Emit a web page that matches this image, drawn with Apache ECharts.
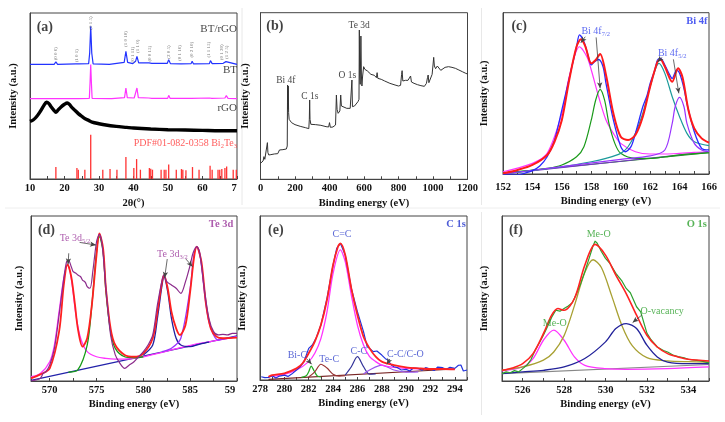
<!DOCTYPE html>
<html><head><meta charset="utf-8">
<script src="https://cdn.jsdelivr.net/npm/echarts@6/dist/echarts.min.js"></script>
<style>html,body{margin:0;padding:0;background:#fff}#c{width:725px;height:422px}</style>
</head><body><div id="c"></div>
<script>
// ---------------- (a) XRD ----------------
const aTickLabels = [10,20,30,40,50,60,70];
const aTicks = [10,15,20,25,30,35,40,45,50,55,60,65,70];
const aBTrGO = [[10,69.1],[15,69.1],[17,69.1],[17.5,70.5],[18,69.1],[23.3,69.3],[23.7,69.9],[24.1,69.3],[27,69.5],[27.3,75.9],[27.6,92],[27.9,75.9],[28.3,69.3],[33,69.1],[37.3,70.3],[37.8,76.9],[38.3,70.3],[39.8,69.5],[40.3,70.7],[40.6,70.9],[41,73.9],[41.5,69.9],[44.5,69.9],[44.8,70.9],[45.3,69.7],[49.8,69.7],[50.2,71.9],[50.7,69.5],[53.8,69.3],[54,70.1],[54.3,69.3],[56.7,69.5],[57,70.9],[57.4,69.3],[62,69.5],[62.3,71.3],[62.8,69.5],[66,69.7],[66.2,69.9],[66.8,70.7],[67.2,69.7],[70,69.1]];
const aBT = [[10,48.4],[17.2,48.4],[17.5,49.4],[17.8,48.4],[23.4,48.4],[23.7,49.4],[24,48.4],[27.2,48.6],[27.4,57.8],[27.6,68.9],[27.8,57.8],[28,48.6],[33,48.4],[33.4,49],[33.7,48.4],[37.4,49],[37.8,54.8],[38.2,49],[40.2,48.8],[40.5,49.8],[41,54.8],[41.4,49],[44.4,48.8],[44.8,49.8],[45.3,48.6],[49.9,48.6],[50.2,50.4],[50.6,48.6],[53.7,48.6],[54,49.2],[54.3,48.6],[56.8,48.6],[57,49.4],[57.3,48.6],[62,48.8],[62.3,49.8],[62.7,48.6],[66.5,48.8],[66.9,50.2],[67.4,48.6],[70,48.4]];
const aRGO = [[10,34.7],[11,35.7],[12,37.8],[13,40.8],[14,44.2],[14.8,46.2],[15.5,45.4],[16,43.8],[17,41.2],[17.5,40.2],[18,41.2],[19,43.4],[20,45],[20.8,45.8],[21.5,44.8],[22,43.4],[23,41.4],[24,39.4],[25,37.8],[26,36.3],[27,35.3],[28,34.3],[30,33.3],[32,32.5],[35,31.7],[38,31.1],[40,30.7],[45,30.1],[50,29.7],[55,29.5],[60,29.3],[65,29.1],[70,29.1]];
const aPDF = [[17.5,7.2],[23.6,6.6],[24.0,5.6],[25.9,5.6],[27.6,26.7],[31.1,5.6],[33.2,6],[35.2,5.6],[37.8,13.3],[40.1,6.6],[40.9,12],[42.0,5.6],[44.6,6.6],[45.0,6.2],[45.5,5.6],[48.0,5.6],[48.9,5.6],[49.4,5.6],[50.2,8.8],[52.4,5.6],[53.9,6],[54.3,5.6],[55.2,5.2],[57.1,7.2],[59.0,5.6],[62.2,8],[62.8,5.6],[64.5,5.6],[65.0,5.6],[65.6,6],[66.5,6.6],[67.0,7.6],[68.9,5.6],[69.8,5.6]];
const aHkl = ['(0 0 6)','(1 0 1)','(0 1 5)','(1 0 10)','(0 1 11)','(1 1 0)','(0 0 15)','(2 0 5)','(0 1 16)','(0 2 10)','(1 1 15)','(0 1 20)','(1 2 5)'];
const aHklX = [17.4,23.6,27.6,37.8,39.7,41.1,44.7,50.2,53.4,56.8,61.9,65.7,67.1];
const aHklY = [75.5,74.3,94,84.3,74.9,79.9,75.5,76.5,75.9,77.9,77.9,76.3,76.3];

// ---------------- (b) survey ----------------
const bTickLabels = [0,200,400,600,800,1000,1200];
const bTicks = [0,100,200,300,400,500,600,700,800,900,1000,1100,1200];
const bSurvey = [[0,9.6],[8,10.2],[15,11],[20,13.6],[25,12],[30,11.4],[35,13],[40,22],[43,16],[48,14.6],[60,14.8],[80,15.2],[100,15.4],[110,17.6],[130,17.8],[150,18.2],[155,20],[157,56.6],[159,42],[161,56],[163,40],[166,36],[172,35.8],[180,34],[200,32.8],[230,31.8],[260,31],[280,30.4],[283,36],[285,47.6],[287,36],[292,33],[300,33.4],[320,32.8],[350,32.4],[380,31.6],[395,31.4],[400,34],[405,31.2],[420,31.4],[435,32.6],[440,50.6],[444,42],[450,39.6],[460,41],[465,50.6],[469,44],[480,43],[500,42.6],[520,42.6],[527,43],[530,59.6],[533,43.6],[545,44],[555,45.2],[565,46.6],[571,48],[573,89.6],[575,62],[578,57],[582,86],[585,62],[588,56],[592,62],[598,67.6],[605,66],[620,65],[640,63],[660,62.4],[672,61],[676,64],[680,60.6],[700,60],[720,59],[750,57.6],[780,56.6],[800,56],[812,56.4],[818,63],[821,65.2],[825,59],[840,59.4],[855,59.4],[865,60],[870,62],[875,58.4],[890,57.6],[910,56.8],[930,56.2],[950,55.8],[962,57.6],[968,61],[972,62.6],[976,58],[985,58.6],[995,63],[1000,68.6],[1004,73.2],[1008,68],[1015,66.4],[1025,68],[1035,67],[1045,65.4],[1055,66],[1070,67.2],[1090,67.6],[1110,67.2],[1130,66.6],[1150,65.6],[1170,64.6],[1190,63.6],[1200,63.2]];

// ---------------- (c) Bi 4f ----------------
const cTickLabels = [152,154,156,158,160,162,164,166];
const cTicks = [152,153,154,155,156,157,158,159,160,161,162,163,164,165,166];
const cRaw = [[152,-0.5],[153,-0.6],[153.5,0.6],[154,2.1],[154.5,5],[155,10.7],[155.5,21],[156,39.7],[156.5,59.3],[157,79],[157.2,86.2],[157.5,82],[157.8,73],[158,67.6],[158.2,69.5],[158.5,71],[158.8,66.5],[159,56.2],[159.5,33.5],[160,17],[160.3,13.8],[160.7,17],[161,25.2],[161.5,41.7],[161.8,49],[162,56.2],[162.3,64],[162.5,70.7],[162.7,71.7],[163,67.6],[163.3,62],[163.5,59.3],[163.8,64.5],[164,62.4],[164.3,53],[164.5,43.8],[165,26.2],[165.5,15.9],[166,14.9]];
const cFit = [[152,0.4],[153,2.5],[154,5.6],[155,11.8],[155.5,20],[156,33.5],[156.5,58.3],[157,79],[157.3,83.5],[157.6,79],[158,68.6],[158.3,70.7],[158.6,74.4],[159,61.4],[159.5,37.6],[160,23.1],[160.5,21.1],[161,24.2],[161.5,35.5],[162,54.1],[162.5,69.6],[162.7,71],[163,66.5],[163.5,57.2],[163.9,65.5],[164.2,60],[164.6,39.7],[165,28.3],[165.5,22.1],[166,19.4]];
const cP1 = [[152,1.4],[154,6.6],[155,12.8],[156,37.6],[156.5,60.3],[157.2,78.9],[157.7,72.7],[158,64.5],[158.5,47.9],[159,33.5],[159.5,25.2],[160,19],[161,13.8],[162,12.4],[163,12.4],[164,12.8],[165,13.4],[166,13.8]];
const cP2 = [[152,0.4],[155,3.5],[156,5.6],[157,10.7],[157.5,16.9],[158,33.5],[158.3,45.9],[158.6,52.5],[158.9,45.9],[159.2,31.4],[159.6,19],[160,12.8],[161,9.7],[162,9.7],[163,10.7],[164,11.8],[166,13.2]];
const cP3 = [[152,0],[156,4.5],[158,7.6],[159,9.7],[160,12.8],[160.5,16.9],[161,25.2],[161.5,37.6],[162,54.1],[162.6,68.6],[163,62.4],[163.5,47.9],[164,35.5],[164.5,25.2],[165,20],[166,17.6]];
const cP4 = [[152,0],[160,9.1],[162,11.2],[163,14.9],[163.5,31.4],[163.7,41.7],[164,47.5],[164.3,41.7],[164.5,31.4],[165,19],[165.5,14.9],[166,13.8]];
const cBase = [[152,0],[166,13.8]];
const cBase2 = [[152,0.6],[166,13.2]];

// ---------------- (d) Te 3d ----------------
const dTickLabels = [570,575,580,585,590];
const dTicks = [570,572.5,575,577.5,580,582.5,585,587.5,590];
const dRaw = [[568,0],[568.5,0.6],[569,1.6],[569.3,4.6],[569.6,5.7],[570,9.7],[570.5,19.8],[571,40],[571.5,62.2],[571.8,72.3],[572,73.3],[572.3,69.3],[572.5,66.3],[572.8,65.3],[573,64.2],[573.3,63.2],[573.5,61.2],[573.8,59.8],[574,57.2],[574.3,56.2],[574.6,66.3],[575,84.4],[575.3,88.9],[575.6,82.4],[576,56.2],[576.5,27.9],[577,15.8],[577.5,10.7],[578,7.7],[578.5,9.7],[579,11.7],[579.5,14.7],[580,17.8],[580.5,21.8],[581,27.9],[581.5,46.1],[582,61.2],[582.2,64.2],[582.5,60.2],[583,58.2],[583.5,56.2],[584,53.1],[584.5,60.2],[585,70.3],[585.3,77.4],[585.7,81.4],[586,78.4],[586.5,56.2],[587,38],[587.5,29.9],[588,27.9],[588.5,28.3],[589,27.9],[589.5,28.9],[590,28.9]];
const dFit = [[568,1.6],[569,4],[570,7.7],[571,29.9],[571.5,58.2],[571.9,70.7],[572.3,63.2],[572.7,46.1],[573,31.9],[573.5,20.8],[574,25.9],[574.5,46.1],[575,76.4],[575.3,89.5],[575.7,80.4],[576,56.2],[576.5,31.9],[577,21.8],[578,15.8],[579,14.7],[580,16.8],[581,25.9],[581.5,42],[582,60.2],[582.2,64.2],[582.6,56.2],[583,42],[583.5,31.9],[583.9,27.9],[584.5,33.9],[585,54.1],[585.4,74.3],[585.7,81.4],[586.2,72.3],[586.7,46.1],[587.2,31.9],[587.8,26.9],[588.5,25.9],[590,26.3]];
const dP1 = [[568,2.6],[569,4.6],[570,11.7],[570.5,21.8],[571,42],[571.5,62.2],[571.9,70.7],[572.3,62.2],[572.8,40],[573.3,25.9],[574,17.8],[575,14.7],[576,13.7],[577,13.3],[578,13.3],[580,14.7],[582,17.4],[584,20.2],[586,22.8],[588,24.8],[590,26.9]];
const dP2 = [[572,5.3],[573,6.7],[574,21.8],[574.5,46.1],[575,78.4],[575.3,87.5],[575.7,78.4],[576,54.1],[576.5,29.9],[577,19.8],[578,14.7],[579,14.1],[580,14.7]];
const dP3 = [[580,15.8],[581,21.8],[581.5,38],[582,58.2],[582.2,63.2],[582.6,54.1],[583,38],[583.5,25.9],[584,21.8],[585,20.8],[586,22.4],[587,23.6]];
const dP4 = [[582,17.8],[583,19.8],[584,25.9],[585,56.2],[585.4,76.4],[585.7,81.4],[586.1,74.3],[586.6,50.1],[587,36],[587.5,27.9],[588,24.8],[589,25.9],[590,26.9]];
const dBase = [[568,0.4],[590,27.3]];

// ---------------- (e) C 1s ----------------
const eTickLabels = [278,280,282,284,286,288,290,292,294];
const eTicks = [278,279,280,281,282,283,284,285,286,287,288,289,290,291,292,293,294,295];
const eRaw = [[278.1,2],[278.4,1.4],[278.7,1.6],[279,2.6],[279.3,1.2],[279.6,2.4],[280,3],[280.3,2.2],[280.6,3.6],[281,6.1],[281.3,8],[281.6,11],[282,19.3],[282.3,21.3],[282.6,25.4],[283,33.5],[283.5,49.8],[284,70.1],[284.3,80.3],[284.6,83.3],[285,76.2],[285.5,55.9],[286,41.7],[286.5,29.5],[286.8,20.3],[287,19.3],[287.3,17.3],[287.6,17.7],[288,15.2],[288.3,13],[288.5,12.2],[288.8,9],[289,8.1],[289.3,7.5],[289.6,6.1],[290,6.5],[290.3,5.5],[290.6,7.3],[291,7.1],[291.3,6],[291.6,7.5],[292,6.7],[292.3,5.8],[292.6,7.9],[293,7.5],[293.3,6.5],[293.6,7.7],[294,7.1],[294.3,9],[294.5,9.1],[294.7,5.5],[295,6.1]];
const eFit = [[278.7,2],[279,3],[280,4.1],[281,7.1],[281.5,10.2],[282,16.3],[282.5,23.4],[283,33.5],[283.5,48.8],[284,70.1],[284.4,81.3],[284.6,83.3],[285,76.2],[285.5,55.9],[286,39.6],[286.5,26.4],[287,19.3],[287.5,14.2],[288,11.2],[289,9.1],[290,7.7],[291,7.1],[292,6.7],[293,6.7],[294,6.5]];
const eCC = [[278.7,2],[280,3.5],[281,6.1],[282,11.2],[282.5,16.3],[283,25.2],[283.5,41.5],[284,65],[284.6,79.3],[285,72.2],[285.5,51.8],[286,33.5],[286.5,21.3],[287,14.2],[287.5,11.2],[288,9.1],[289,7.7],[290,7.1],[292,6.7],[294,6.5]];
const eBiC = [[281.4,1.6],[281.8,2.6],[282,5],[282.2,8.5],[282.45,5.5],[282.7,2.5],[283,1.9]];
const eTeC = [[282,1.8],[282.5,5],[283,9.6],[283.5,7.3],[284,3.5],[284.5,2.4],[285,2.6]];
const eCsC = [[285,3],[285.5,8.1],[286,14.2],[286.5,8.1],[287,3.5],[287.5,3.7]];
const eCO = [[286.5,3.6],[287,6.1],[288,9.1],[289,6.1],[290,4.8],[291,5]];
const eBase = [[278.7,0.4],[294,6.7]];

// ---------------- (f) O 1s ----------------
const fTickLabels = [526,528,530,532,534];
const fTicks = [525,526,527,528,529,530,531,532,533,534,535];
const fRaw = [[525,4.5],[525.2,5.5],[525.4,5],[525.6,6.3],[525.8,5.5],[526,7.5],[526.2,9.5],[526.4,13],[526.6,18.6],[526.8,23],[527,27.7],[527.2,33],[527.4,38.7],[527.6,42.9],[527.8,42.3],[528,43.9],[528.2,45.5],[528.4,47.5],[528.6,53],[528.8,59],[529,66.2],[529.2,74],[529.4,82],[529.5,84.8],[529.6,83.5],[529.8,78.5],[530,74.3],[530.2,71.5],[530.5,65.2],[530.8,60.5],[531,56.1],[531.2,53.5],[531.5,45],[531.7,41.9],[532,29],[532.2,25],[532.5,20.6],[532.8,18.5],[533,17.6],[533.3,15.5],[533.5,14.8],[533.8,14],[534,13.2],[534.3,12.6],[534.6,12.2],[535,11]];
const fFit = [[525,6.5],[525.5,7.9],[526,10.5],[526.5,16.6],[527,28.7],[527.4,39.9],[527.7,43.9],[528,42.9],[528.5,50],[529,70.2],[529.5,82.8],[530,76.3],[530.5,64.2],[531,53],[531.5,39.9],[532,27.7],[532.5,20.6],[533,16.6],[533.5,14.6],[534,13.2],[535,12.1]];
const fMeO1 = [[525,6.1],[526,8.5],[526.5,13.6],[527,24.7],[527.5,30.8],[528,24.7],[528.5,14.6],[529,9.5],[530,7.5],[531,7.1],[533,7.5],[535,8.5]];
const fMeO2 = [[525,6.5],[526,8.5],[527,12.6],[527.5,17.6],[528,27.5],[528.5,45.7],[529,65.8],[529.4,73.5],[529.8,68.8],[530.3,51.6],[530.8,33.4],[531.3,21.3],[532,14.2],[533,12.2],[534,11.7],[535,11.5]];
const fOv = [[525,4.5],[526,5.5],[527,6.5],[528,8.5],[529,13.6],[530,23.7],[530.5,31.8],[531,34.8],[531.5,31.8],[532,21.7],[532.5,14.6],[533,11.5],[534,10.5],[535,10.5]];
const fBase = [[525,4.5],[535,10]];

// ---------------- build ----------------
const F = 'Liberation Serif';
const grids = [
  {left:30, top:13, width:207, height:166},
  {left:260.5, top:12.7, width:207, height:166.6},
  {left:503, top:12.7, width:206, height:161.3},
  {left:31, top:216, width:206, height:165},
  {left:260, top:216, width:207, height:164},
  {left:502, top:216, width:207, height:165}
].map(g => Object.assign({show:true, borderColor:'#444', borderWidth:1, containLabel:false}, g));

function xa(i, min, max, labels, ticks, name, margin, gap, fmt, rich) {
  return {type:'value', gridIndex:i, min:min, max:max, name:name, nameLocation:'middle', nameGap:gap,
    nameTextStyle:{fontFamily:F, fontWeight:'bold', fontSize:10.5, color:'#111'},
    axisLine:{show:true, onZero:false, lineStyle:{color:'#444', width:1}},
    axisTick:{show:true, inside:true, length:3, customValues:ticks, lineStyle:{color:'#444'}},
    axisLabel:{show:true, customValues:labels, fontFamily:F, fontWeight:'bold', fontSize:10.5, color:'#111', margin:margin,
      formatter:fmt || (v => String(v)), rich: rich || {}},
    splitLine:{show:false}, minorTick:{show:false}};
}
function ya(i, gap) {
  return {type:'value', gridIndex:i, min:0, max:100, name:'Intensity (a.u.)', nameLocation:'middle', nameGap:gap, nameRotate:90,
    nameTextStyle:{fontFamily:F, fontWeight:'bold', fontSize:10.5, color:'#111'},
    axisLine:{show:true, onZero:false, lineStyle:{color:'#444'}}, axisTick:{show:false}, axisLabel:{show:false}, splitLine:{show:false}};
}
function L(g, data, color, w, smooth, z) {
  return {type:'line', xAxisIndex:g, yAxisIndex:g, data:data, symbol:'none', showSymbol:false,
    smooth: smooth ? 0.3 : false, lineStyle:{color:color, width:w}, itemStyle:{color:color}, silent:true, z:z||2, animation:false};
}
function T(g, items, arrows) {
  const s = {type:'scatter', xAxisIndex:g, yAxisIndex:g, symbolSize:0.1, silent:true, z:20, animation:false,
    itemStyle:{color:'transparent'},
    label:{show:true, position:'inside', fontFamily:F, fontSize:10, color:'#111'},
    data: items.map(it => ({value:[it[0], it[1]], label:Object.assign({show:true, formatter:it[2]}, it[3] || {})}))};
  if (arrows) {
    s.markLine = {silent:true, animation:false, symbol:['none','arrow'], symbolSize:[4,6], precision:4,
      lineStyle:{color:'#444', width:0.8, type:'solid'}, label:{show:false},
      data: arrows.map(a => [{coord:[a[0], a[1]]}, {coord:[a[2], a[3]]}])};
  }
  return s;
}
function sub(color) {
  return {rich:{n:{fontFamily:F, fontSize:10, color:color}, s:{fontFamily:F, fontSize:6.5, color:color, padding:[6,0,0,0]}}};
}
const B = {fontWeight:'bold', fontSize:14, color:'#111'};
const H = c => ({align:'right', fontWeight:'bold', color:c, fontSize:10.5});

const series = [];
// (a)
series.push(L(0, aRGO, '#000', 3.4, true));
series.push(L(0, aBT, '#ff33ff', 1.2, false));
series.push(L(0, aBTrGO, '#2233ff', 1.2, false));
series.push({type:'bar', xAxisIndex:0, yAxisIndex:0, data:aPDF, barWidth:1.3, itemStyle:{color:'#ff3333'}, silent:true, animation:false});
series.push(T(0, [
  [14.3, 91.6, '(a)', B],
  [70, 90.4, 'BT/rGO', {align:'right', fontSize:11}],
  [70, 65.3, 'BT', {align:'right', fontSize:11}],
  [70, 42.8, 'rGO', {align:'right', fontSize:11}],
  [70, 21.3, 'PDF#01-082-0358 Bi{s|2}Te{s|3}', Object.assign({align:'right', color:'#ff3333'}, sub('#ff3333'))]
].concat(aHkl.map((h, k) => [aHklX[k], aHklY[k], h, {rotate:90, fontSize:5, color:'#555'}]))));
// (b)
series.push(L(1, bSurvey, '#333', 1, false));
series.push(T(1, [
  [83, 92, '(b)', B],
  [146.9, 59.2, 'Bi 4f', {fontSize:9.5}],
  [286, 49.6, 'C 1s', {fontSize:9.5}],
  [504, 62.6, 'O 1s', {fontSize:9.5}],
  [572, 92.6, 'Te 3d', {fontSize:9.5}]
]));
// (c)
series.push(L(2, cBase2, '#1a8a1a', 1, false));
series.push(L(2, cBase, '#7a33cc', 1, false));
series.push(L(2, cP1, '#ff33ff', 1.2, true));
series.push(L(2, cP2, '#1a9a1a', 1.2, true));
series.push(L(2, cP3, '#1a9a9a', 1.2, true));
series.push(L(2, cP4, '#9933ff', 1.2, true));
series.push(L(2, cRaw, '#2a2aff', 1.3, true));
series.push(L(2, cFit, '#ff1a1a', 2, true));
series.push(T(2, [
  [153.1, 91.7, '(c)', B],
  [165.9, 94.6, 'Bi 4f', H('#2233ee')],
  [158.3, 88.2, '{n|Bi 4f}{s|7/2}', sub('#3344ee')],
  [163.5, 74.8, '{n|Bi 4f}{s|5/2}', sub('#3344ee')]
], [[157.59,85.1,157.29,81.4],[158.33,84.7,158.6,53.1],[162.8,72.3,162.5,69.4],[163.58,71.1,163.95,50]]));
// (d)
series.push(L(3, dBase, '#2222aa', 1.2, false));
series.push(L(3, dP1, '#ff33ff', 1.3, true));
series.push(L(3, dP2, '#189c18', 1.3, true));
series.push(L(3, dP3, '#2020a0', 1.3, true));
series.push(L(3, dP4, '#9933ff', 1.3, true));
series.push(L(3, dFit, '#ff2020', 1.8, true));
series.push(L(3, dRaw, '#8b2a8b', 1.2, true));
series.push(T(3, [
  [569.65, 91.5, '(d)', B],
  [589.6, 95, 'Te 3d', H('#993399')],
  [572.7, 86.5, '{n|Te 3d}{s|5/2}', sub('#993399')],
  [583.1, 76.8, '{n|Te 3d}{s|3/2}', sub('#993399')]
], [[572.03,77.4,571.96,70.7],[573.19,84,574.94,82.4],[582.55,73.9,582.27,62.6],[584.55,73.9,585.25,69.3]]));
// (e)
series.push(L(4, eBase, '#772222', 1.2, false));
series.push(L(4, eBiC, '#22aa22', 1.2, true));
series.push(L(4, eTeC, '#993333', 1.2, true));
series.push(L(4, eCsC, '#333399', 1.2, true));
series.push(L(4, eCO, '#9955ee', 1.2, true));
series.push(L(4, eCC, '#ff33ff', 1.3, true));
series.push(L(4, eRaw, '#2233dd', 1.2, false));
series.push(L(4, eFit, '#ff2222', 1.8, true));
series.push(T(4, [
  [279.3, 91.5, '(e)', B],
  [294.9, 95, 'C 1s', H('#2233cc')],
  [284.73, 88.8, 'C=C', {color:'#3344cc'}],
  [281.07, 14.8, 'Bi-C', {color:'#3344cc'}],
  [283.68, 12.8, 'Te-C', {color:'#3344cc'}],
  [286.12, 17.3, 'C-C', {color:'#3344cc'}],
  [289.94, 15.7, 'C-C/C-O', {color:'#3344cc'}]
], [[281.85,12.8,282.24,9.6],[288.66,12.8,288.42,9.6]]));
// (f)
series.push(L(5, fBase, '#888', 1.2, false));
series.push(L(5, fMeO1, '#ff33ff', 1.3, true));
series.push(L(5, fMeO2, '#a8a032', 1.3, true));
series.push(L(5, fOv, '#22229a', 1.3, true));
series.push(L(5, fRaw, '#2ea02e', 1.2, false));
series.push(L(5, fFit, '#ff2222', 1.6, true));
series.push(T(5, [
  [525.67, 91.5, '(f)', B],
  [534.9, 95, 'O 1s', H('#2ea02e')],
  [529.67, 88.9, 'Me-O', {color:'#2ea02e'}],
  [527.55, 34.8, 'Me-O', {color:'#2ea02e'}],
  [532.74, 41.9, 'O-vacancy', {color:'#2ea02e'}]
], [[531.75,39.9,531.31,35.4]]));

const R7 = {r:{fontFamily:F, fontWeight:'bold', fontSize:10.5, color:'#111', padding:[0,6,0,0]}};
const R59 = {r:{fontFamily:F, fontWeight:'bold', fontSize:10.5, color:'#111', padding:[0,14,0,0]}};
const chart = echarts.init(document.getElementById('c'), null, {renderer:'canvas'});
chart.setOption({
  animation:false,
  backgroundColor:'#fff',
  grid: grids,
  xAxis: [
    xa(0, 10, 70, aTickLabels, aTicks, '2θ(°)', 3.5, 18.5, v => v === 70 ? '{r|7}' : String(v), R7),
    xa(1, 0, 1200, bTickLabels, bTicks, 'Binding energy (eV)', 3.5, 18.5),
    xa(2, 152, 166, cTickLabels, cTicks, 'Binding energy (eV)', 8, 22),
    xa(3, 568, 590, dTickLabels, dTicks, 'Binding energy (eV)', 4, 17.5, v => v === 590 ? '{r|59}' : String(v), R59),
    xa(4, 278, 295, eTickLabels, eTicks, 'Binding energy (eV)', 4, 17.5),
    xa(5, 525, 535, fTickLabels, fTicks, 'Binding energy (eV)', 4, 17.5)
  ],
  yAxis: [ya(0, 11), ya(1, 10), ya(2, 13), ya(3, 6), ya(4, 12), ya(5, 12)],
  series: series,
  graphic: [
    {type:'line', shape:{x1:242, y1:8, x2:242, y2:205}, style:{stroke:'#e8e8e8', lineWidth:1}, silent:true},
    {type:'line', shape:{x1:481.5, y1:8, x2:481.5, y2:205}, style:{stroke:'#e8e8e8', lineWidth:1}, silent:true},
    {type:'line', shape:{x1:481.5, y1:212, x2:481.5, y2:415}, style:{stroke:'#e8e8e8', lineWidth:1}, silent:true},
    {type:'line', shape:{x1:5, y1:208, x2:720, y2:208}, style:{stroke:'#eeeeee', lineWidth:1}, silent:true}
  ]
});
</script></body></html>
